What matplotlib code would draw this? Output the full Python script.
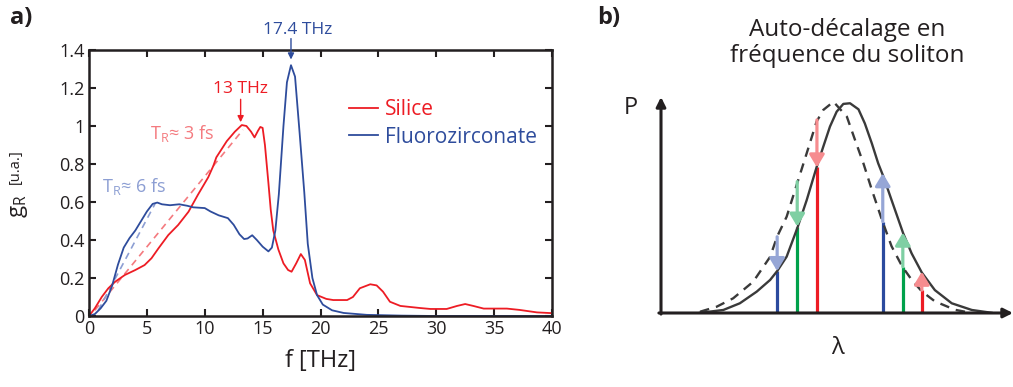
import matplotlib
matplotlib.use("Agg")
import matplotlib.pyplot as plt

plt.rcParams["font.family"] = ["Open Sans", "DejaVu Sans"]
plt.rcParams["mathtext.fontset"] = "custom"
plt.rcParams["mathtext.rm"] = "Open Sans"

# Panel a) Raman gain curves
f_fluoro = [0, 0.5, 1.0, 1.5, 2.0, 2.5, 3.0, 3.5, 4.0, 4.5, 5.0, 5.5, 5.9, 6.3, 7.0, 7.8,
            8.5, 9.0, 10.0, 10.5, 11.2, 12.0, 12.5, 13.0, 13.4, 13.7, 14.1, 14.5, 15.0,
            15.5, 15.8, 16.1, 16.4, 16.8, 17.1, 17.45, 17.8, 18.2, 18.6, 18.9, 19.3,
            19.7, 20.2, 21.0, 22.0, 24.0, 27.0, 30.0, 40.0]
g_fluoro = [0, 0.01, 0.04, 0.08, 0.16, 0.27, 0.36, 0.41, 0.45, 0.50, 0.55, 0.59, 0.597,
            0.588, 0.583, 0.588, 0.58, 0.572, 0.568, 0.55, 0.53, 0.515, 0.48, 0.43, 0.405,
            0.408, 0.425, 0.40, 0.365, 0.34, 0.36, 0.45, 0.64, 1.0, 1.23, 1.32, 1.26, 0.96,
            0.65, 0.38, 0.20, 0.11, 0.06, 0.03, 0.016, 0.006, 0.002, 0, 0]

f_silice = [0, 0.5, 1.1, 1.67, 2.25, 3.1, 4.0, 4.8, 5.4, 6.0, 6.85, 7.7, 8.6, 9.4, 10.3,
            10.74, 11.0, 11.9, 12.6, 13.2, 13.6, 14.0, 14.3, 14.6, 14.8, 15.0, 15.2, 15.5,
            15.7, 15.92, 16.36, 16.8, 17.2, 17.5, 17.9, 18.3, 18.65, 19.1, 19.7, 20.5, 21.1,
            22.3, 22.8, 23.4, 24.3, 24.85, 25.4, 26.0, 26.9, 28.6, 29.5, 30.9, 31.8, 32.5,
            33.2, 34.1, 36.1, 37.2, 38.7, 40.0]
g_silice = [0, 0.04, 0.10, 0.146, 0.18, 0.216, 0.242, 0.268, 0.304, 0.356, 0.426, 0.479,
            0.549, 0.637, 0.73, 0.79, 0.835, 0.92, 0.97, 1.005, 1.0, 0.97, 0.94, 0.975,
            0.995, 0.99, 0.90, 0.70, 0.56, 0.45, 0.35, 0.277, 0.242, 0.233, 0.277, 0.326,
            0.295, 0.172, 0.11, 0.09, 0.084, 0.084, 0.10, 0.146, 0.167, 0.161, 0.128, 0.075,
            0.053, 0.042, 0.037, 0.037, 0.053, 0.063, 0.053, 0.039, 0.039, 0.032, 0.019,
            0.015]

# linear approximations (dashed)
f_lin_silice = [0.5, 13.3]
g_lin_silice = [0.03, 0.98]
f_lin_fluoro = [0.8, 5.7]
g_lin_fluoro = [0.03, 0.59]

# Panel b) schematic soliton spectra (arbitrary units)
lam_after = [11.1, 17.7, 22.4, 27.2, 31.0, 33.0, 35.7, 38.7, 41.4, 44.2, 46.1, 48.0, 49.9,
             51.8, 53.7, 56.1, 57.9, 59.9, 61.7, 63.2, 65.5, 68.8, 71.2, 74.1, 77.8, 82.6,
             88.3, 93.9]
p_after = [0.1, 1.4, 4.5, 9.9, 15.3, 19.4, 26.1, 39.2, 52.3, 67.5, 77.0, 86.3, 93.2, 96.8,
           97.1, 94.3, 87.8, 78.5, 69.3, 63.1, 52.3, 36.9, 27.6, 18.7, 10.6, 4.5, 1.4, 0.1]
lam_before = [11.1, 15.8, 20.5, 26.2, 31.0, 33.0, 35.7, 38.7, 41.4, 44.2, 46.1, 49.0, 52.8,
              55.1, 57.5, 59.9, 62.9, 65.5, 68.5, 71.2, 74.1, 77.8, 83.5, 87.3]
p_before = [0.6, 2.9, 6.8, 14.5, 26.0, 35.4, 44.6, 60.1, 74.0, 88.6, 94.0, 97.8, 90.9, 80.2,
            69.3, 57.0, 42.5, 30.9, 21.6, 15.4, 10.0, 5.4, 1.5, 0.3]
bar_lam = [33.0, 38.7, 44.3, 63.0, 68.7, 74.1]
bar_from = [35.3, 60.8, 89.4, 42.3, 21.4, 10.6]
bar_to = [19.4, 40.0, 67.4, 64.7, 37.2, 19.1]
bar_colors = ["#2b4a9e", "#00a14b", "#ed1c24", "#2b4a9e", "#00a14b", "#ed1c24"]
arrow_colors = ["#96a6d6", "#7fcfa3", "#f68c8f", "#96a6d6", "#7fcfa3", "#f68c8f"]

RED = "#ed1c24"
BLUE = "#2e4c9c"
LRED = "#f47a7f"
LBLUE = "#8c9ed3"
INK = "#231f20"

fig = plt.figure(figsize=(10.13, 3.87), dpi=100)

# ---------------- panel a
ax = fig.add_axes([89 / 1013, 1 - 316 / 387, 463 / 1013, 266 / 387])
ax.plot(f_lin_silice, g_lin_silice, color=LRED, lw=1.2, dashes=(4, 3))
ax.plot(f_lin_fluoro, g_lin_fluoro, color=LBLUE, lw=1.2, dashes=(4, 3))
ax.plot(f_silice, g_silice, color=RED, lw=1.3, label="Silice")
ax.plot(f_fluoro, g_fluoro, color=BLUE, lw=1.3, label="Fluorozirconate")

ax.set_xlim(0, 40)
ax.set_ylim(0, 1.4)
ax.set_xticks(range(0, 41, 5))
ax.set_yticks([0, 0.2, 0.4, 0.6, 0.8, 1.0, 1.2, 1.4])
ax.set_yticklabels(["0", "0.2", "0.4", "0.6", "0.8", "1", "1.2", "1.4"])
ax.tick_params(direction="in", top=True, right=True, length=5, width=1.5,
               labelsize=13, colors=INK, pad=3)
for s in ax.spines.values():
    s.set_linewidth(1.8)
    s.set_color(INK)
ax.set_xlabel("f [THz]", fontsize=17, color=INK, labelpad=8)

leg = ax.legend(loc="upper left", bbox_to_anchor=(0.52, 0.885), frameon=False,
                fontsize=15, handlelength=1.4, handletextpad=0.35, labelspacing=0.3,
                labelcolor="linecolor")

arrow = dict(arrowstyle="-|>", color=RED, lw=1.0, mutation_scale=9, shrinkA=0, shrinkB=0)
ax.annotate("13 THz", xy=(13.1, 1.02), xytext=(13.1, 1.155), color=RED, fontsize=12.5,
            ha="center", va="bottom", arrowprops=arrow, annotation_clip=False)
arrow_b = dict(arrow, color=BLUE)
ax.annotate("", xy=(17.45, 1.35), xytext=(17.45, 1.46), arrowprops=arrow_b,
            annotation_clip=False)
ax.text(18.0, 1.465, "17.4 THz", color=BLUE, fontsize=12.5, ha="center", va="bottom",
        clip_on=False)
ax.text(5.25, 0.93, "T$_\\mathregular{R}$≈ 3 fs", color=LRED, fontsize=13, va="baseline")
ax.text(1.1, 0.655, "T$_\\mathregular{R}$≈ 6 fs", color=LBLUE, fontsize=13, va="baseline")

fig.text(19 / 1013, 1 - 206 / 387, "g$_\\mathregular{R}$", rotation=90, fontsize=16,
         color=INK, ha="center", va="center")
fig.text(15 / 1013, 1 - 167 / 387, "[u.a.]", rotation=90, fontsize=10.5,
         color=INK, ha="center", va="center")

fig.text(10 / 1013, 1 - 6 / 387, "a)", fontsize=17, fontweight="bold", color=INK, va="top")
fig.text(597 / 1013, 1 - 6 / 387, "b)", fontsize=17, fontweight="bold", color=INK, va="top")

# ---------------- panel b
bx = fig.add_axes([661 / 1013, 1 - 313 / 387, 352 / 1013, 216 / 387])
bx.set_xlim(0, 100)
bx.set_ylim(0, 100)
bx.axis("off")

for x, a, b, c, lc in zip(bar_lam, bar_from, bar_to, bar_colors, arrow_colors):
    bx.vlines(x, 0, min(a, b), color=c, lw=2.3)
    bx.annotate("", xy=(x, b), xytext=(x, a),
                arrowprops=dict(arrowstyle="-|>,head_length=0.5,head_width=0.3", color=lc,
                                lw=2.3, mutation_scale=15, shrinkA=0, shrinkB=0))

bx.plot(lam_before, p_before, color="#3a3a3a", lw=1.7, dashes=(4, 3))
bx.plot(lam_after, p_after, color="#3a3a3a", lw=1.7)

axis_arrow = dict(arrowstyle="-|>", color=INK, lw=2.2, mutation_scale=14,
                  shrinkA=0, shrinkB=0)
bx.annotate("", xy=(0, 100), xytext=(0, -0.5), arrowprops=axis_arrow, annotation_clip=False)
bx.annotate("", xy=(100, 0), xytext=(-0.6, 0), arrowprops=axis_arrow, annotation_clip=False)

bx.text(-8.5, 95, "P", fontsize=17, color=INK, ha="center", va="center")
bx.text(50, -16, "λ", fontsize=17, color=INK, ha="center", va="center", clip_on=False)
fig.text(847 / 1013, 1 - 43 / 387, "Auto-décalage en\nfréquence du soliton", fontsize=17.5,
         color=INK, ha="center", va="center", linespacing=1.15)

fig.savefig("out.png", dpi=100)
